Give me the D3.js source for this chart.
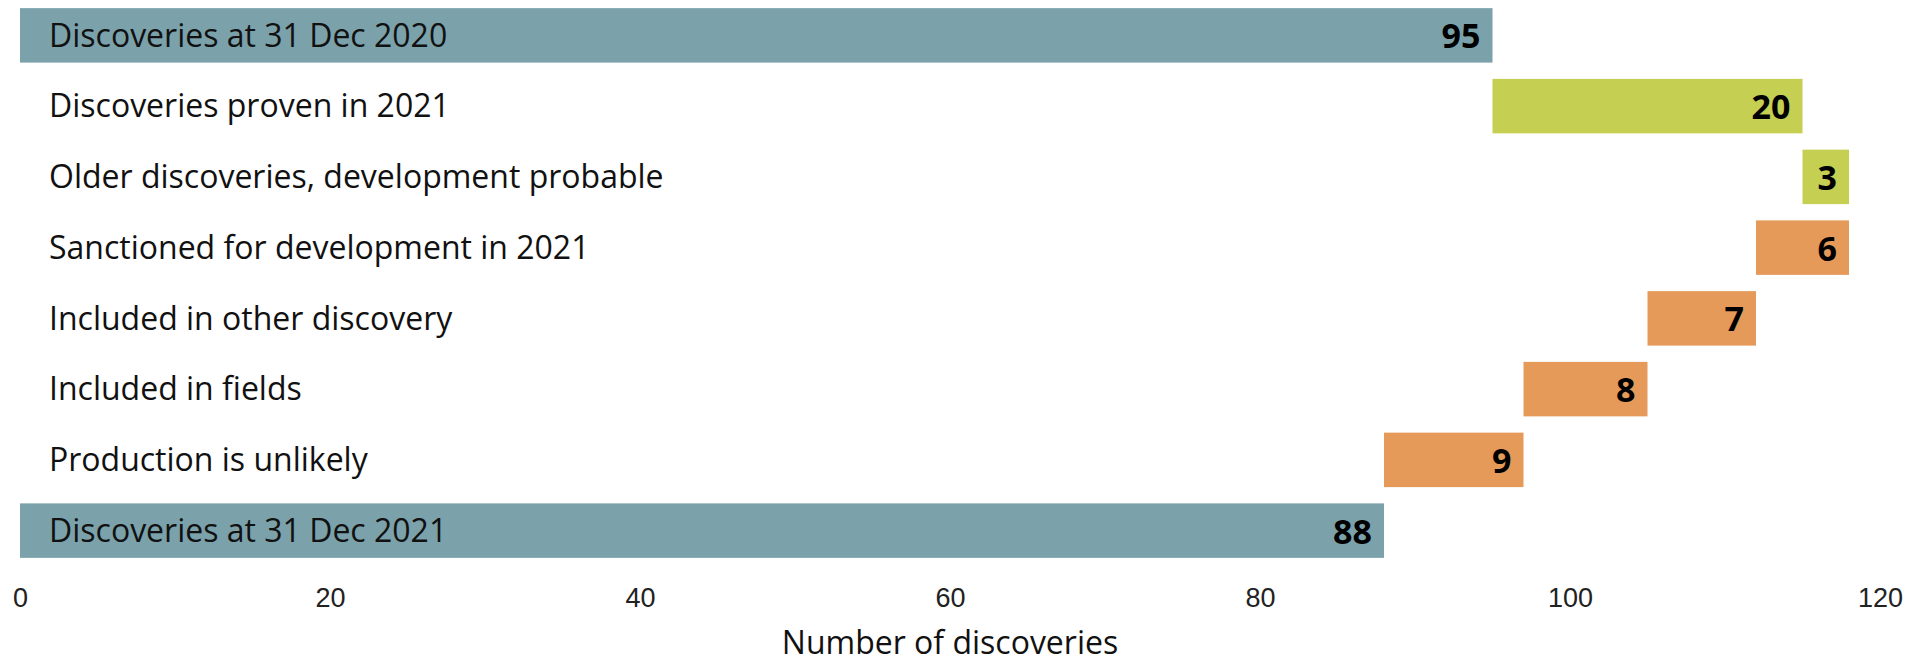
<!DOCTYPE html>
<html>
<head>
    <title>Discoveries waterfall</title>
    <script src="https://cdn.jsdelivr.net/npm/d3@7"></script>
    <style>
        body {
            margin: 0;
            background: #fff;
            font-family: "Open Sans", "Noto Sans", sans-serif;
        }
        .cat {
            font-size: 32px;
            fill: #111;
        }
        .val {
            font-size: 34px;
            font-weight: bold;
            fill: #000;
        }
        .tick text {
            font-size: 27px;
            fill: #222;
        }
    </style>
</head>
<body>
    <script>
        const categories = [
            "Discoveries at 31 Dec 2020",
            "Discoveries proven in 2021",
            "Older discoveries, development probable",
            "Sanctioned for development in 2021",
            "Included in other discovery",
            "Included in fields",
            "Production is unlikely",
            "Discoveries at 31 Dec 2021"
        ];
        const values = [95, 20, 3, -6, -7, -8, -9, 88];
        const kinds = ["total", "up", "up", "down", "down", "down", "down", "total"];
        const xTicks = [0, 20, 40, 60, 80, 100, 120];

        const colors = { total: "#7ba2ab", up: "#c5cf52", down: "#e59a5a" };

        const width = 1920;
        const height = 664;

        // running totals for the waterfall
        let run = 0;
        const rows = categories.map((c, i) => {
            let x0, x1;
            if (kinds[i] === "total") {
                x0 = 0; x1 = values[i]; run = values[i];
            } else {
                x0 = run; x1 = run + values[i]; run = x1;
            }
            return { cat: c, v: Math.abs(values[i]), kind: kinds[i], lo: Math.min(x0, x1), hi: Math.max(x0, x1) };
        });

        const x = d3.scaleLinear().domain([0, 120]).range([20, 1880]);
        const y = d3.scaleBand().domain(categories).range([0, 566]).paddingInner(0.23).paddingOuter(0.115);

        const svg = d3.select("body").append("svg")
            .attr("width", width)
            .attr("height", height);

        svg.append("g").selectAll("rect")
            .data(rows)
            .enter()
            .append("rect")
            .attr("x", d => x(d.lo))
            .attr("y", d => y(d.cat))
            .attr("width", d => x(d.hi) - x(d.lo))
            .attr("height", y.bandwidth())
            .attr("fill", d => colors[d.kind]);

        svg.append("g").selectAll("text")
            .data(rows)
            .enter()
            .append("text")
            .attr("class", "cat")
            .attr("x", 49)
            .attr("y", d => y(d.cat) + y.bandwidth() / 2)
            .attr("dy", "0.35em")
            .text(d => d.cat);

        svg.append("g").selectAll("text")
            .data(rows)
            .enter()
            .append("text")
            .attr("class", "val")
            .attr("x", d => x(d.hi) - 12)
            .attr("y", d => y(d.cat) + y.bandwidth() / 2)
            .attr("dy", "0.38em")
            .attr("text-anchor", "end")
            .text(d => d.v);

        const axis = svg.append("g")
            .attr("transform", "translate(0,588)")
            .call(d3.axisBottom(x).tickValues(xTicks).tickSize(0).tickPadding(0));
        axis.select(".domain").remove();
        axis.selectAll(".tick text").attr("dy", "0.71em");

        svg.append("text")
            .attr("x", x(60))
            .attr("y", 643)
            .attr("dy", "0.35em")
            .attr("text-anchor", "middle")
            .style("font-size", "32px")
            .style("fill", "#111")
            .text("Number of discoveries");
    </script>
</body>
</html>
